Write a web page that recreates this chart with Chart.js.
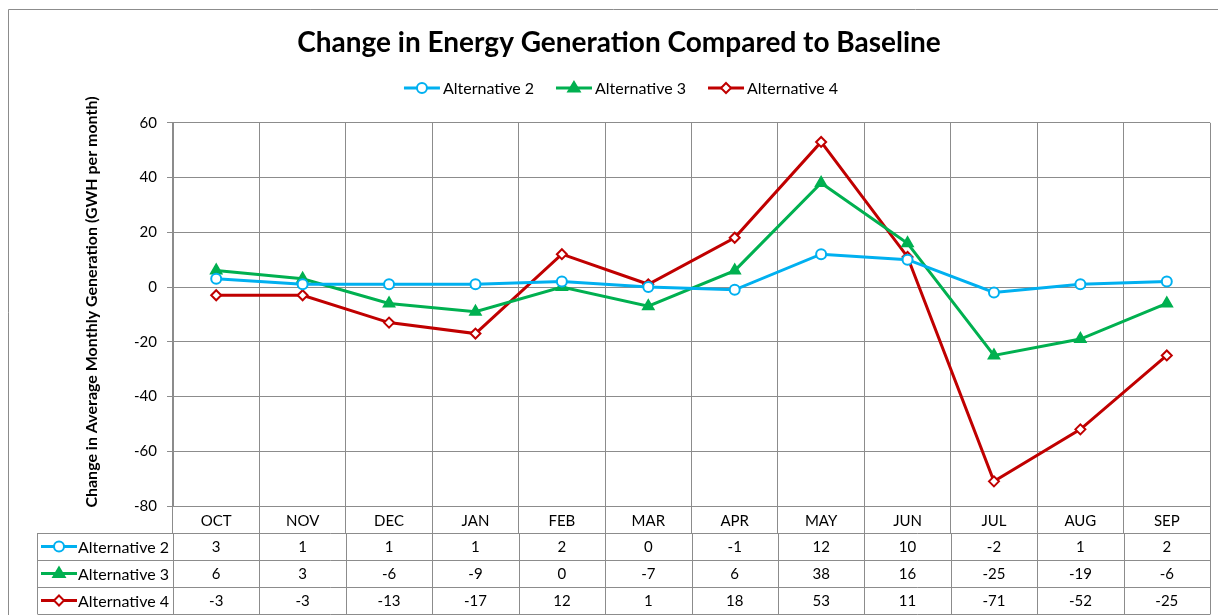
<!DOCTYPE html>
<html><head><meta charset="utf-8">
<script src="https://cdn.jsdelivr.net/npm/chart.js@4/dist/chart.umd.min.js"></script>
<style>html,body{margin:0;padding:0;background:#fff}#wrap{width:1218px;height:615px}</style>
</head><body><div id="wrap"><canvas id="c" width="1218" height="615"></canvas></div>
<script>
const months = ['OCT','NOV','DEC','JAN','FEB','MAR','APR','MAY','JUN','JUL','AUG','SEP'];
const alt2 = [3, 1, 1, 1, 2, 0, -1, 12, 10, -2, 1, 2];
const alt3 = [6, 3, -6, -9, 0, -7, 6, 38, 16, -25, -19, -6];
const alt4 = [-3, -3, -13, -17, 12, 1, 18, 53, 11, -71, -52, -25];
const seriesNames = ['Alternative 2', 'Alternative 3', 'Alternative 4'];
const yMin = -80, yMax = 60, yStep = 20;
const titleText = 'Change in Energy Generation Compared to Baseline';
const yTitleText = 'Change in Average Monthly Generation (GWH per month)';

const FONT = 'Lato, "Liberation Sans", sans-serif';
const GRID = '#8c8c8c';
const colors = ['#00B0F0', '#00B050', '#C00000'];
const styles = ['circle', 'triangle', 'rectRot'];
const radii = [5, 6, 5];
const fills = ['#ffffff', '#00B050', '#ffffff'];

function drawMarker(ctx, i, x, y) {
  ctx.save();
  ctx.lineWidth = 2;
  ctx.strokeStyle = colors[i];
  ctx.fillStyle = fills[i];
  const r = radii[i];
  ctx.beginPath();
  if (styles[i] === 'circle') {
    ctx.arc(x, y, r, 0, Math.PI * 2);
  } else if (styles[i] === 'triangle') {
    ctx.moveTo(x, y - r);
    ctx.lineTo(x + r * 0.95, y + r * 0.6);
    ctx.lineTo(x - r * 0.95, y + r * 0.6);
    ctx.closePath();
  } else {
    ctx.moveTo(x, y - r); ctx.lineTo(x + r, y); ctx.lineTo(x, y + r); ctx.lineTo(x - r, y); ctx.closePath();
  }
  ctx.fill(); ctx.stroke();
  ctx.restore();
}
function drawLegendSymbol(ctx, i, x, y, len) {
  ctx.save();
  ctx.strokeStyle = colors[i]; ctx.lineWidth = 3;
  ctx.beginPath(); ctx.moveTo(x, y); ctx.lineTo(x + len, y); ctx.stroke();
  ctx.restore();
  drawMarker(ctx, i, x + len / 2, y);
}

const seriesData = [alt2, alt3, alt4];

const deco = {
  id: 'deco',
  beforeDraw(chart) {
    const ctx = chart.ctx;
    ctx.save();
    ctx.fillStyle = '#fff'; ctx.fillRect(0, 0, chart.width, chart.height);
    ctx.strokeStyle = GRID; ctx.lineWidth = 1;
    ctx.beginPath(); ctx.moveTo(8.5, chart.height); ctx.lineTo(8.5, 9.5); ctx.lineTo(chart.width, 9.5); ctx.stroke();
    ctx.restore();
  },
  afterDraw(chart) {
    const ctx = chart.ctx;
    const ca = chart.chartArea;
    const x = chart.scales.x;
    ctx.save();
    // y axis title
    ctx.font = 'bold 16px ' + FONT;
    ctx.fillStyle = '#000';
    ctx.textAlign = 'center'; ctx.textBaseline = 'middle';
    ctx.translate(92, 302); ctx.rotate(-Math.PI / 2);
    ctx.fillText(yTitleText, 0, 0);
    ctx.restore();

    // legend
    ctx.save();
    ctx.font = '16px ' + FONT;
    const symLen = 36, gapText = 3, gapItem = 22;
    const widths = seriesNames.map(n => symLen + gapText + ctx.measureText(n).width);
    const total = widths.reduce((a, b) => a + b, 0) + gapItem * (seriesNames.length - 1);
    let lx = 621 - total / 2;
    const ly = 88;
    ctx.textBaseline = 'middle'; ctx.textAlign = 'left'; ctx.fillStyle = '#000';
    seriesNames.forEach((n, i) => {
      drawLegendSymbol(ctx, i, lx, ly, symLen);
      ctx.fillText(n, lx + symLen + gapText, ly + 1);
      lx += widths[i] + gapItem;
    });
    ctx.restore();

    // data table
    ctx.save();
    const rowH = 27;
    const top = x.bottom;
    const tLeft = 37.5;
    const colW = x.getPixelForValue(1) - x.getPixelForValue(0);
    ctx.strokeStyle = GRID; ctx.lineWidth = 1;
    ctx.beginPath();
    for (let r = 0; r <= 3; r++) {
      const yy = Math.round(top + r * rowH) + 0.5;
      ctx.moveTo(tLeft, yy); ctx.lineTo(Math.round(ca.right) + 0.5, yy);
    }
    ctx.moveTo(tLeft, top); ctx.lineTo(tLeft, top + 3 * rowH);
    for (let i = 0; i <= months.length; i++) {
      const bx = Math.round(x.getPixelForValue(0) - colW / 2 + i * colW) + 0.5;
      ctx.moveTo(bx, top); ctx.lineTo(bx, top + 3 * rowH);
    }
    ctx.stroke();
    ctx.fillStyle = '#000';
    ctx.textBaseline = 'middle';
    seriesNames.forEach((n, i) => {
      const cy = top + i * rowH + rowH / 2 + 1;
      drawLegendSymbol(ctx, i, 41, cy - 1, 36);
      ctx.textAlign = 'left';
      ctx.font = '16px ' + FONT;
      ctx.fillText(n, 78, cy);
      ctx.textAlign = 'center';
      ctx.font = '15px ' + FONT;
      seriesData[i].forEach((v, j) => {
        ctx.fillText(String(v), x.getPixelForValue(j), cy);
      });
    });
    ctx.restore();
  }
};

new Chart(document.getElementById('c'), {
  type: 'line',
  data: {
    labels: months,
    datasets: seriesNames.map((n, i) => ({
      label: n,
      data: seriesData[i],
      borderColor: colors[i],
      backgroundColor: fills[i],
      borderWidth: 3,
      pointStyle: styles[i],
      pointRadius: radii[i],
      pointBorderWidth: 2,
      pointBorderColor: colors[i],
      pointBackgroundColor: fills[i],
      tension: 0
    }))
  },
  options: {
    responsive: false,
    animation: false,
    devicePixelRatio: 1,
    layout: { padding: { left: 25, right: 5, top: 0, bottom: 82 } },
    plugins: {
      legend: { display: false },
      tooltip: { enabled: false },
      title: {
        display: true,
        text: titleText,
        color: '#000',
        font: { family: FONT, size: 28, weight: 'bold', lineHeight: 1.1 },
        padding: { top: 28, bottom: 64 }
      }
    },
    scales: {
      x: {
        offset: true,
        grid: { offset: true, color: GRID, tickLength: 27, drawTicks: true, tickColor: GRID },
        border: { color: GRID },
        ticks: { color: '#000', font: { family: FONT, size: 15 }, padding: -21, maxRotation: 0 },
        afterFit(s) { s.height = 27; }
      },
      y: {
        min: yMin, max: yMax,
        ticks: { stepSize: yStep, color: '#000', font: { family: FONT, size: 15 }, padding: 10 },
        grid: { color: GRID, tickLength: 6, tickColor: GRID },
        border: { color: GRID },
        afterFit(s) { s.width = 148; }
      }
    }
  },
  plugins: [deco]
});
</script></body></html>
